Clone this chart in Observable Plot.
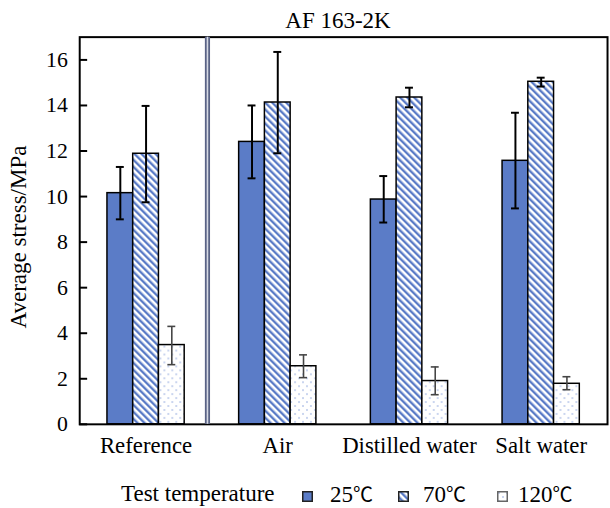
<!DOCTYPE html>
<html><head><meta charset="utf-8">
<script src="https://cdn.jsdelivr.net/npm/d3@7"></script>
<script src="https://cdn.jsdelivr.net/npm/@observablehq/plot@0.6"></script>
<style>
html,body{margin:0;padding:0;background:#fff;overflow:hidden;width:610px;height:508px}
body{position:relative;font-family:"Liberation Serif","Times New Roman",serif;color:#000}
.abs{position:absolute;white-space:nowrap;line-height:28px;height:28px;font-size:23px;font-family:"Liberation Serif","Times New Roman",serif}
.leg{line-height:20px;height:20px}
.deg{font-family:"Noto Sans CJK SC","Noto Sans CJK JP",sans-serif;font-size:20px;line-height:20px}
</style></head><body>
<svg width="0" height="0" style="position:absolute">
<defs>
<pattern id="hatch" patternUnits="userSpaceOnUse" width="5" height="5" patternTransform="rotate(-45)">
<rect width="5" height="5" fill="#fff"/>
<rect x="0" y="0" width="2.4" height="5" fill="#5b7cc7"/>
</pattern>
<pattern id="dots" patternUnits="userSpaceOnUse" width="8" height="8">
<rect width="8" height="8" fill="#fff"/>
<circle cx="2" cy="2" r="0.75" fill="#7a96d8"/>
<circle cx="6" cy="6" r="0.75" fill="#7a96d8"/>
</pattern>
</defs></svg>
<div id="chart"></div>
<script>
const title = "AF 163-2K";
const yLabel = "Average stress/MPa";
const legendTitle = "Test temperature";
const categories = ["Reference", "Air", "Distilled water", "Salt water"];
const temps = ["25℃", "70℃", "120℃"];
const mean25 = [10.15, 12.4, 9.87, 11.57];
const lo25 = [9.0, 10.8, 8.86, 9.48];
const hi25 = [11.3, 14.0, 10.9, 13.68];
const mean70 = [11.88, 14.13, 14.35, 15.04];
const lo70 = [9.75, 11.9, 13.92, 14.83];
const hi70 = [13.98, 16.35, 14.78, 15.22];
const mean120 = [3.48, 2.55, 1.9, 1.78];
const lo120 = [2.62, 2.05, 1.3, 1.52];
const hi120 = [4.3, 3.05, 2.52, 2.09];
const yTicks = [0, 2, 4, 6, 8, 10, 12, 14, 16];
const separatorAfter = ["Reference"];

const serif = "'Liberation Serif','Times New Roman',serif";
const fills = ["#5b7cc7", "url(#hatch)", "url(#dots)"];
const series = [[mean25, lo25, hi25], [mean70, lo70, hi70], [mean120, lo120, hi120]];
const rows = [];
categories.forEach((c, i) => series.forEach(([m, l, h], j) =>
  rows.push({cat: c, temp: temps[j], j, value: m[i], lo: l[i], hi: h[i]})));

const barW = 26, bandW = 78, capHalf = 4;
const marks = [];
temps.forEach((t, j) => {
  const d = rows.filter(r => r.temp === t);
  marks.push(Plot.barY(d, {x: "cat", y: "value", fill: fills[j], stroke: "#000", strokeWidth: 1.5,
    insetLeft: j * barW, insetRight: (2 - j) * barW}));
});
temps.forEach((t, j) => {
  const d = rows.filter(r => r.temp === t);
  const col = j < 2 ? "#000" : "#454545";
  const sw = j < 2 ? 2 : 1.6;
  const c = bandW / 2 + (j - 1) * barW;
  marks.push(Plot.ruleX(d, {x: "cat", y1: "lo", y2: "hi", dx: (j - 1) * barW, stroke: col, strokeWidth: sw}));
  marks.push(Plot.tickY(d, {x: "cat", y: "hi", insetLeft: c - capHalf, insetRight: bandW - c - capHalf, stroke: col, strokeWidth: sw}));
  marks.push(Plot.tickY(d, {x: "cat", y: "lo", insetLeft: c - capHalf, insetRight: bandW - c - capHalf, stroke: col, strokeWidth: sw}));
});
marks.push(Plot.frame({stroke: "#000", strokeWidth: 2}));
marks.push(Plot.ruleX(separatorAfter, {x: d => d, dx: 62, stroke: "#5a6385", strokeWidth: 5.2}));
marks.push(Plot.ruleX(separatorAfter, {x: d => d, dx: 62, stroke: "#d6d9e4", strokeWidth: 1.6}));
marks.push(Plot.axisY({ticks: yTicks, tickSize: 0, tickPadding: 12, fontSize: 22, fontFamily: serif, fontVariant: "normal", label: null}));
marks.push(Plot.axisY({ticks: yTicks, tickSize: 8, dx: 8, tickFormat: () => "", label: null, strokeWidth: 2}));
marks.push(Plot.axisX({tickSize: 0, tickPadding: 13, fontSize: 23, fontFamily: serif, label: null}));

const chart = Plot.plot({
  width: 616, height: 470,
  marginTop: 37, marginBottom: 42, marginLeft: 80, marginRight: 3,
  style: {fontFamily: serif, background: "transparent", color: "#000", overflow: "visible"},
  x: {domain: categories, paddingInner: 0.415, paddingOuter: 0.2075, axis: null},
  y: {domain: [0, 17], axis: null},
  marks
});
chart.style.position = "absolute";
chart.style.left = "0px";
chart.style.top = "0px";
document.getElementById("chart").appendChild(chart);

function addText(txt, left, top, extra, cls) {
  const el = document.createElement("div");
  el.className = "abs" + (cls ? " " + cls : "");
  const m = txt.match(/^(.*?)(℃)$/);
  if (m) {
    el.appendChild(document.createTextNode(m[1]));
    const s = document.createElement("span");
    s.className = "deg"; s.textContent = m[2];
    el.appendChild(s);
  } else el.textContent = txt;
  el.style.left = left + "px";
  el.style.top = top + "px";
  if (extra) Object.assign(el.style, extra);
  document.body.appendChild(el);
  return el;
}
addText(title, 238, 7, {width: "200px", textAlign: "center"});
addText(yLabel, -131, 223, {width: "300px", textAlign: "center", transform: "rotate(-90deg)"});
addText(legendTitle, 121, 484, null, "leg");
const swX = [302, 398, 497], txX = [330, 423, 518];
temps.forEach((t, j) => {
  const s = document.createElementNS("http://www.w3.org/2000/svg", "svg");
  s.setAttribute("width", 11); s.setAttribute("height", 11);
  s.style.position = "absolute"; s.style.left = swX[j] + "px"; s.style.top = "491px";
  const r = document.createElementNS("http://www.w3.org/2000/svg", "rect");
  r.setAttribute("x", 0.75); r.setAttribute("y", 0.75); r.setAttribute("width", 9.5); r.setAttribute("height", 9.5);
  r.setAttribute("fill", fills[j]); r.setAttribute("stroke", j < 2 ? "#222" : "#666"); r.setAttribute("stroke-width", 1.5);
  s.appendChild(r);
  document.body.appendChild(s);
  addText(t, txX[j], 484, null, "leg");
});
</script>
</body></html>
